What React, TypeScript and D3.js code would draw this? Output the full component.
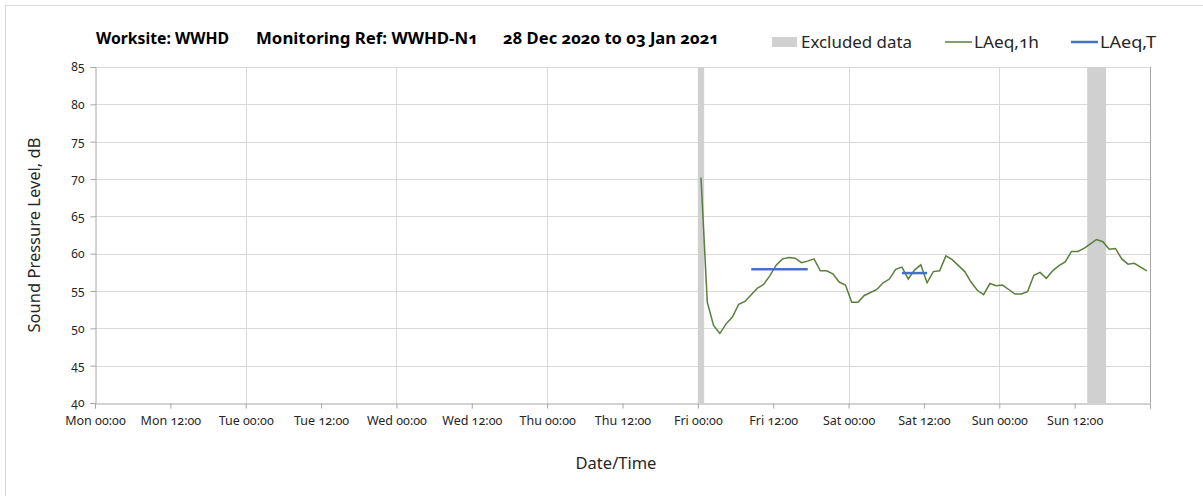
import React, { useEffect, useRef } from 'react';
import * as d3 from 'd3';

// hourly LAeq,1h readings, first one at Fri 01 Jan 2021 00:30
const firstReading = new Date(2021, 0, 1, 0, 30);
const laeq1h = [
  70.2, 53.5, 50.4, 49.3, 50.6, 51.5, 53.2, 53.6, 54.5, 55.4, 55.9, 57.1,
  58.5, 59.3, 59.5, 59.4, 58.8, 59.0, 59.3, 57.7, 57.7, 57.3, 56.2, 55.8,
  53.5, 53.5, 54.4, 54.8, 55.2, 56.1, 56.6, 57.9, 58.2, 56.6, 57.8, 58.5,
  56.1, 57.6, 57.7, 59.7, 59.2, 58.4, 57.6, 56.2, 55.1, 54.5, 56.0, 55.7,
  55.8, 55.2, 54.6, 54.6, 54.9, 57.1, 57.5, 56.7, 57.7, 58.4, 58.9, 60.3,
  60.3, 60.7, 61.3, 61.9, 61.6, 60.6, 60.7, 59.3, 58.6, 58.7, 58.2, 57.7,
];

// LAeq,T periods
const laeqTStart = [new Date(2021, 0, 1, 8, 30), new Date(2021, 0, 2, 8, 30)];
const laeqTEnd = [new Date(2021, 0, 1, 17, 30), new Date(2021, 0, 2, 12, 30)];
const laeqTValue = [57.9, 57.4];

// excluded periods
const excludedStart = [new Date(2021, 0, 1, 0, 0), new Date(2021, 0, 3, 14, 0)];
const excludedEnd = [new Date(2021, 0, 1, 1, 0), new Date(2021, 0, 3, 17, 0)];

const yTicks = [40, 45, 50, 55, 60, 65, 70, 75, 80, 85];
const weekStart = new Date(2020, 11, 28, 0, 0);
const weekEnd = new Date(2021, 0, 4, 0, 0);

const titleParts = ['Worksite: WWHD', 'Monitoring Ref: WWHD-N1', '28 Dec 2020 to 03 Jan 2021'];
const legendLabels = ['Excluded data', 'LAeq,1h', 'LAeq,T'];

const font = '"Noto Sans", sans-serif';
const green = '#5a7f3b';
const blue = '#4472c4';
const grey = '#d0d0d0';

const App: React.FC = () => {
  const ref = useRef<SVGSVGElement | null>(null);

  useEffect(() => {
    const width = 1203;
    const height = 496;
    const m = { top: 67, right: 53, bottom: 93, left: 95 };

    const svg = d3.select(ref.current);
    svg.selectAll('*').remove();
    svg.attr('width', width).attr('height', height);

    svg.append('rect')
      .attr('x', 5.5).attr('y', 5.5)
      .attr('width', width).attr('height', height)
      .attr('fill', '#fff').attr('stroke', '#d9d9d9');

    const x = d3.scaleTime().domain([weekStart, weekEnd]).range([m.left, width - m.right]);
    const y = d3.scaleLinear().domain([40, 85]).range([height - m.bottom, m.top]);

    const g = svg.append('g');

    // horizontal grid
    g.selectAll('.hgrid').data(yTicks.slice(1)).enter().append('line')
      .attr('x1', m.left).attr('x2', width - m.right)
      .attr('y1', d => Math.round(y(d)) + 0.5).attr('y2', d => Math.round(y(d)) + 0.5)
      .attr('stroke', '#d9d9d9');

    // vertical grid every 24h
    const days = d3.timeDay.range(d3.timeDay.offset(weekStart, 1), d3.timeDay.offset(weekEnd, 1));
    g.selectAll('.vgrid').data(days).enter().append('line')
      .attr('x1', d => Math.round(x(d)) + 0.5).attr('x2', d => Math.round(x(d)) + 0.5)
      .attr('y1', m.top).attr('y2', height - m.bottom)
      .attr('stroke', d => (+d === +weekEnd ? '#a6a6a6' : '#d9d9d9'));

    // excluded bands
    g.selectAll('.excl').data(excludedStart).enter().append('rect')
      .attr('x', d => x(d))
      .attr('width', (d, i) => x(excludedEnd[i]) - x(d))
      .attr('y', m.top).attr('height', height - m.bottom - m.top)
      .attr('fill', grey);

    // axes
    const xAxis = d3.axisBottom(x)
      .tickValues(d3.timeHour.every(12)!.range(weekStart, d3.timeHour.offset(weekEnd, 1)))
      .tickSize(5)
      .tickFormat((d) => (+d === +weekEnd ? '' : d3.timeFormat('%a %H:%M')(d as Date)));
    const xa = svg.append('g')
      .attr('transform', `translate(0,${height - m.bottom + 0.5})`)
      .call(xAxis);
    xa.select('.domain').attr('stroke', '#a6a6a6');
    xa.selectAll('.tick line').attr('stroke', '#a6a6a6');
    xa.selectAll('.tick text')
      .attr('dy', '1.05em')
      .attr('fill', '#262626')
      .style('font-family', font).style('font-size', '12.5px')
      .style('font-variant-numeric', 'oldstyle-nums');

    const yAxis = d3.axisLeft(y).tickValues(yTicks).tickSize(5).tickPadding(6);
    const ya = svg.append('g')
      .attr('transform', `translate(${m.left + 0.5},0)`)
      .call(yAxis);
    ya.select('.domain').attr('stroke', '#a6a6a6');
    ya.selectAll('.tick line').attr('stroke', '#a6a6a6');
    ya.selectAll('.tick text')
      .attr('fill', '#262626')
      .style('font-family', font).style('font-size', '12px')
      .style('font-variant-numeric', 'oldstyle-nums');

    // LAeq,1h line
    const line = d3.line<number>()
      .x((_, i) => x(d3.timeHour.offset(firstReading, i)))
      .y(d => y(d));
    g.append('path')
      .datum(laeq1h)
      .attr('d', line)
      .attr('fill', 'none')
      .attr('stroke', green)
      .attr('stroke-width', 1.5);

    // LAeq,T segments
    g.selectAll('.laeqT').data(laeqTValue).enter().append('line')
      .attr('x1', (_, i) => x(laeqTStart[i]))
      .attr('x2', (_, i) => x(laeqTEnd[i]))
      .attr('y1', d => y(d)).attr('y2', d => y(d))
      .attr('stroke', blue)
      .attr('stroke-width', 2.5);

    // title
    const titleX = [96, 256, 503];
    const titleW = [133, 222, 216];
    const title = svg.append('g')
      .style('font-family', font).style('font-weight', 'bold').style('font-size', '15.5px')
      .style('font-variant-numeric', 'oldstyle-nums').attr('fill', '#000');
    title.selectAll('text').data(titleParts).enter().append('text')
      .attr('x', (_, i) => titleX[i]).attr('y', 44)
      .attr('textLength', (_, i) => titleW[i])
      .attr('lengthAdjust', 'spacingAndGlyphs')
      .text(d => d);

    // legend
    const legend = svg.append('g')
      .style('font-family', font).style('font-size', '16.5px')
      .style('font-variant-numeric', 'oldstyle-nums').attr('fill', '#262626');
    legend.append('rect').attr('x', 772).attr('y', 37).attr('width', 25).attr('height', 10).attr('fill', grey);
    legend.append('line').attr('x1', 945).attr('x2', 972).attr('y1', 42).attr('y2', 42)
      .attr('stroke', green).attr('stroke-width', 1.5);
    legend.append('line').attr('x1', 1071).attr('x2', 1098).attr('y1', 42).attr('y2', 42)
      .attr('stroke', blue).attr('stroke-width', 2.5);
    const legendX = [801, 974, 1100];
    const legendW = [111, 65, 56];
    legend.selectAll('text').data(legendLabels).enter().append('text')
      .attr('x', (_, i) => legendX[i]).attr('y', 48)
      .attr('textLength', (_, i) => legendW[i])
      .attr('lengthAdjust', 'spacingAndGlyphs')
      .text(d => d);

    // axis titles
    svg.append('text')
      .attr('transform', `translate(40,${(m.top + height - m.bottom) / 2}) rotate(-90)`)
      .attr('text-anchor', 'middle')
      .style('font-family', font).style('font-size', '16.5px').attr('fill', '#262626')
      .text('Sound Pressure Level, dB');
    svg.append('text')
      .attr('x', 616).attr('y', 469)
      .attr('text-anchor', 'middle')
      .style('font-family', font).style('font-size', '16.5px').attr('fill', '#262626')
      .text('Date/Time');
  }, []);

  return (
    <div style={{ position: 'absolute', left: 0, top: 0 }}>
      <svg ref={ref}></svg>
    </div>
  );
};

export default App;
